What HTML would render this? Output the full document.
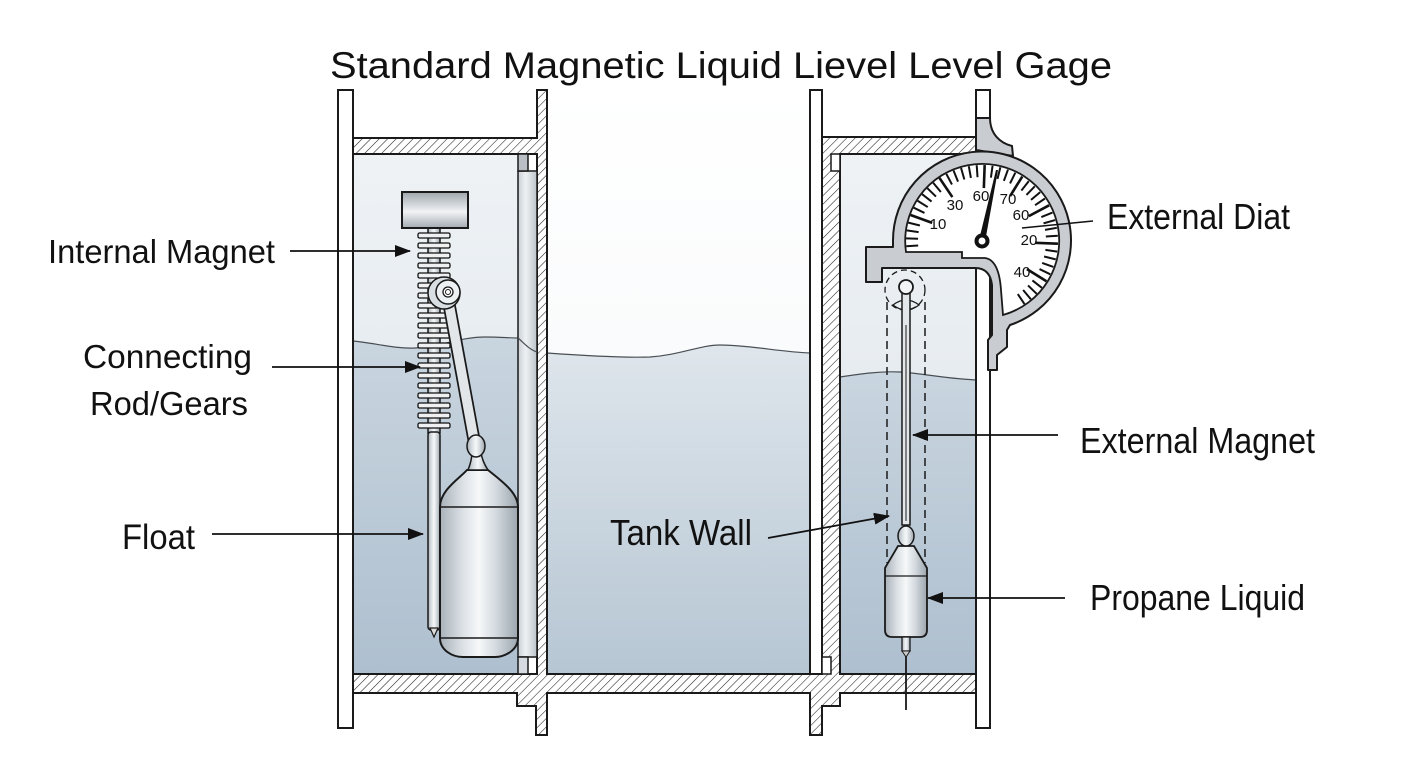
<!DOCTYPE html>
<html><head><meta charset="utf-8"><style>
html,body{margin:0;padding:0;background:#fff;}
body{width:1408px;height:768px;overflow:hidden;}
svg{display:block;}
</style></head><body>
<svg width="1408" height="768" viewBox="0 0 1408 768" xmlns="http://www.w3.org/2000/svg" font-family="'Liberation Sans', Arial, sans-serif">
<defs>
<pattern id="h" width="6" height="6" patternUnits="userSpaceOnUse" patternTransform="rotate(45)"><rect width="6" height="6" fill="#fff"/><line x1="0" y1="0" x2="0" y2="6" stroke="#222" stroke-width="1.1"/></pattern>
<linearGradient id="gl" x1="0" y1="0" x2="0" y2="1"><stop offset="0" stop-color="#eef2f5"/><stop offset="1" stop-color="#dde4ea"/></linearGradient>
<linearGradient id="gw" x1="0" y1="0" x2="0" y2="1"><stop offset="0" stop-color="#c9d5df"/><stop offset="1" stop-color="#aebfcf"/></linearGradient>
<linearGradient id="gm" x1="0" y1="0" x2="0" y2="1"><stop offset="0" stop-color="#dfe6ec"/><stop offset="1" stop-color="#b6c6d3"/></linearGradient>
<linearGradient id="gt" x1="0" y1="0" x2="0" y2="1"><stop offset="0" stop-color="#ffffff"/><stop offset="1" stop-color="#f3f6f8"/></linearGradient>
<linearGradient id="met" x1="0" y1="0" x2="1" y2="0"><stop offset="0" stop-color="#a9b2ba"/><stop offset="0.3" stop-color="#dde2e6"/><stop offset="0.5" stop-color="#f6f8f9"/><stop offset="0.72" stop-color="#d3d9de"/><stop offset="1" stop-color="#9ba5ae"/></linearGradient>
<linearGradient id="metv" x1="0" y1="0" x2="0" y2="1"><stop offset="0" stop-color="#9ea6ad"/><stop offset="0.55" stop-color="#f1f3f5"/><stop offset="1" stop-color="#a3abb2"/></linearGradient>
<linearGradient id="tube" x1="0" y1="0" x2="1" y2="0"><stop offset="0" stop-color="#c9cfd5"/><stop offset="0.4" stop-color="#eef1f3"/><stop offset="1" stop-color="#bcc4cb"/></linearGradient>
<marker id="ar" markerWidth="16" markerHeight="12" refX="15" refY="6" orient="auto" markerUnits="userSpaceOnUse"><path d="M0,0 L16,6 L0,12 Z" fill="#111"/></marker>
<clipPath id="face"><path d="M906,252 A77,77 0 1 1 1003,315 L1001,290 Q999,260 985,258 L962,258 L962,252 Z"/></clipPath>
</defs>

<!-- Title -->
<text x="330" y="78" font-size="37" textLength="782" lengthAdjust="spacingAndGlyphs" fill="#111">Standard Magnetic Liquid Lievel Level Gage</text>

<!-- Interiors -->
<rect x="353" y="154" width="165" height="520" fill="url(#gl)"/>
<path d="M353,341 C375,343 395,349 415,348 C440,347 460,337 485,337 C500,337 510,338 518,338 L518,674 L353,674 Z" fill="url(#gw)"/>
<rect x="547" y="90" width="263" height="584" fill="url(#gt)"/>
<path d="M547,353 C575,355 620,358 650,357 C680,355 700,345 720,345 C750,345 780,352 810,353 L810,674 L547,674 Z" fill="url(#gm)"/>
<rect x="840" y="154" width="136" height="520" fill="url(#gl)"/>
<path d="M840,377 C860,374 880,371 900,372 C920,373 940,378 976,380 L976,674 L840,674 Z" fill="url(#gw)"/>

<!-- water surface lines -->
<g fill="none" stroke="#4a4f55" stroke-width="1.2">
<path d="M353,341 C375,343 395,349 415,348 C440,347 460,337 485,337 C500,337 510,338 518,338"/>
<path d="M547,353 C575,355 620,358 650,357 C680,355 700,345 720,345 C750,345 780,352 810,353"/>
<path d="M840,377 C860,374 880,371 900,372 C920,373 940,378 976,380"/>
</g>

<!-- Hatched frame -->
<path d="M353,138 L537,138 L537,90 L547,90 L547,674 L822,674 L822,137 L976,137 L976,154 L840,154 L840,674 L976,674 L976,693 L840,693 L840,706 L822,706 L822,735 L810,735 L810,693 L547,693 L547,735 L536,735 L536,706 L517,706 L517,693 L353,693 L353,674 L537,674 L537,154 L353,154 Z" fill="url(#h)" stroke="#1a1a1a" stroke-width="2" stroke-linejoin="miter"/>
<rect x="810" y="90" width="12" height="584" fill="#fff" stroke="#1a1a1a" stroke-width="2"/>
<rect x="831" y="154" width="9" height="17" fill="#fff" stroke="#1a1a1a" stroke-width="1.5"/>
<rect x="822" y="657" width="9" height="17" fill="#fff" stroke="#1a1a1a" stroke-width="1.5"/>
<rect x="338" y="90" width="15" height="638" fill="#fff" stroke="#1a1a1a" stroke-width="2"/>
<rect x="976" y="90" width="14" height="638" fill="#fff" stroke="#1a1a1a" stroke-width="2"/>

<!-- left tube -->
<rect x="518" y="171" width="19" height="486" fill="url(#tube)" stroke="#1a1a1a" stroke-width="1.5"/>
<rect x="518" y="154" width="10" height="17" fill="#b9bfc4" stroke="#1a1a1a" stroke-width="1.5"/>
<rect x="518" y="657" width="10" height="17" fill="#d5dbe0" stroke="#1a1a1a" stroke-width="1.5"/>
<path d="M518,338 C525,344 530,350 537,352" fill="none" stroke="#4a4f55" stroke-width="1.2"/>
<line x1="353" y1="154" x2="353" y2="674" stroke="#1a1a1a" stroke-width="2"/>

<!-- Left mechanism -->
<rect x="428" y="228" width="12" height="205" fill="url(#met)" stroke="#1a1a1a" stroke-width="1.5"/>
<g fill="#eef0f2" stroke="#111" stroke-width="1.3">
<rect x="418" y="233" width="32" height="5" rx="1.5"/>
<rect x="418" y="243" width="32" height="5" rx="1.5"/>
<rect x="418" y="253" width="32" height="5" rx="1.5"/>
<rect x="418" y="263" width="32" height="5" rx="1.5"/>
<rect x="418" y="273" width="32" height="5" rx="1.5"/>
<rect x="418" y="283" width="32" height="5" rx="1.5"/>
<rect x="418" y="293" width="32" height="5" rx="1.5"/>
<rect x="418" y="303" width="32" height="5" rx="1.5"/>
<rect x="418" y="313" width="32" height="5" rx="1.5"/>
<rect x="418" y="323" width="32" height="5" rx="1.5"/>
<rect x="418" y="333" width="32" height="5" rx="1.5"/>
<rect x="418" y="343" width="32" height="5" rx="1.5"/>
<rect x="418" y="353" width="32" height="5" rx="1.5"/>
<rect x="418" y="363" width="32" height="5" rx="1.5"/>
<rect x="418" y="373" width="32" height="5" rx="1.5"/>
<rect x="418" y="383" width="32" height="5" rx="1.5"/>
<rect x="418" y="393" width="32" height="5" rx="1.5"/>
<rect x="418" y="403" width="32" height="5" rx="1.5"/>
<rect x="418" y="413" width="32" height="5" rx="1.5"/>
<rect x="418" y="423" width="32" height="5" rx="1.5"/>
</g>
<rect x="428" y="432" width="12" height="198" rx="3" fill="url(#met)" stroke="#1a1a1a" stroke-width="1.5"/>
<path d="M430,628 L434,637 L438,628 Z" fill="#ddd" stroke="#1a1a1a" stroke-width="1.2"/>
<rect x="402" y="192" width="66" height="36" fill="url(#metv)" stroke="#1a1a1a" stroke-width="2"/>
<!-- link arm -->
<line x1="447" y1="293" x2="474" y2="440" stroke="#1a1a1a" stroke-width="13" stroke-linecap="round"/>
<line x1="447" y1="293" x2="474" y2="440" stroke="#e2e6e9" stroke-width="9.5" stroke-linecap="round"/>
<!-- gear -->
<circle cx="444" cy="293" r="16" fill="#d9dee2" stroke="#1a1a1a" stroke-width="1.5"/>
<circle cx="448" cy="292" r="12" fill="#eef1f3" stroke="#1a1a1a" stroke-width="1.5"/>
<circle cx="448" cy="292" r="5" fill="#fff" stroke="#1a1a1a" stroke-width="1.3"/>
<circle cx="448" cy="292" r="2.5" fill="none" stroke="#1a1a1a" stroke-width="1"/>
<!-- float -->
<path d="M440,507 C440,490 460,478 467,470 L488,470 C500,480 518,492 518,507 L518,638 C518,650 505,657 495,657 L463,657 C452,657 440,650 440,638 Z" fill="url(#met)" stroke="#1a1a1a" stroke-width="2"/>
<line x1="440" y1="507" x2="518" y2="507" stroke="#1a1a1a" stroke-width="1.5"/>
<line x1="440" y1="638" x2="518" y2="638" stroke="#1a1a1a" stroke-width="1.5"/>
<path d="M468,470 Q472,460 472,452 L481,452 Q482,461 488,470 Z" fill="url(#met)" stroke="#1a1a1a" stroke-width="1.5"/>
<ellipse cx="476" cy="446" rx="9" ry="11" fill="url(#met)" stroke="#1a1a1a" stroke-width="1.5"/>

<!-- Gauge -->
<path d="M976,118 L976,150 L1013,156 L1012,146 C1000,143 990,134 990,118 Z" fill="#c9ccd0" stroke="#1a1a1a" stroke-width="2"/>
<path d="M893,247 L893,241 A89,89 0 1 1 1010,325 L1007,330 L1007,347 L997,355 L997,370 L988,370 L988,340 L992,335 L992,285 Q990,268 975,268 L882,268 L882,282 L866,282 L866,247 Z" fill="#c9ccd0" stroke="#1a1a1a" stroke-width="2" stroke-linejoin="round"/>
<path d="M906,252 A77,77 0 1 1 1003,315 L1001,290 Q999,260 985,258 L962,258 L962,252 Z" fill="#fff" stroke="#1a1a1a" stroke-width="1.8"/>
<g clip-path="url(#face)" stroke="#111" stroke-width="2">
<line x1="1046" y1="241" x2="1058" y2="241" transform="rotate(176 982 241)"/>
<line x1="1046" y1="241" x2="1058" y2="241" transform="rotate(182 982 241)"/>
<line x1="1046" y1="241" x2="1058" y2="241" transform="rotate(188 982 241)"/>
<line x1="1046" y1="241" x2="1058" y2="241" transform="rotate(194 982 241)"/>
<line x1="1035" y1="241" x2="1058" y2="241" stroke-width="2.6" transform="rotate(200 982 241)"/>
<line x1="1046" y1="241" x2="1058" y2="241" transform="rotate(206 982 241)"/>
<line x1="1046" y1="241" x2="1058" y2="241" transform="rotate(212 982 241)"/>
<line x1="1046" y1="241" x2="1058" y2="241" transform="rotate(218 982 241)"/>
<line x1="1046" y1="241" x2="1058" y2="241" transform="rotate(224 982 241)"/>
<line x1="1046" y1="241" x2="1058" y2="241" transform="rotate(230 982 241)"/>
<line x1="1035" y1="241" x2="1058" y2="241" stroke-width="2.6" transform="rotate(236 982 241)"/>
<line x1="1046" y1="241" x2="1058" y2="241" transform="rotate(242 982 241)"/>
<line x1="1046" y1="241" x2="1058" y2="241" transform="rotate(248 982 241)"/>
<line x1="1046" y1="241" x2="1058" y2="241" transform="rotate(254 982 241)"/>
<line x1="1046" y1="241" x2="1058" y2="241" transform="rotate(260 982 241)"/>
<line x1="1046" y1="241" x2="1058" y2="241" transform="rotate(266 982 241)"/>
<line x1="1035" y1="241" x2="1058" y2="241" stroke-width="2.6" transform="rotate(272 982 241)"/>
<line x1="1046" y1="241" x2="1058" y2="241" transform="rotate(278 982 241)"/>
<line x1="1046" y1="241" x2="1058" y2="241" transform="rotate(284 982 241)"/>
<line x1="1046" y1="241" x2="1058" y2="241" transform="rotate(290 982 241)"/>
<line x1="1046" y1="241" x2="1058" y2="241" transform="rotate(296 982 241)"/>
<line x1="1035" y1="241" x2="1058" y2="241" stroke-width="2.6" transform="rotate(302 982 241)"/>
<line x1="1046" y1="241" x2="1058" y2="241" transform="rotate(308 982 241)"/>
<line x1="1046" y1="241" x2="1058" y2="241" transform="rotate(314 982 241)"/>
<line x1="1046" y1="241" x2="1058" y2="241" transform="rotate(320 982 241)"/>
<line x1="1046" y1="241" x2="1058" y2="241" transform="rotate(326 982 241)"/>
<line x1="1035" y1="241" x2="1058" y2="241" stroke-width="2.6" transform="rotate(332 982 241)"/>
<line x1="1046" y1="241" x2="1058" y2="241" transform="rotate(338 982 241)"/>
<line x1="1046" y1="241" x2="1058" y2="241" transform="rotate(344 982 241)"/>
<line x1="1046" y1="241" x2="1058" y2="241" transform="rotate(350 982 241)"/>
<line x1="1046" y1="241" x2="1058" y2="241" transform="rotate(356 982 241)"/>
<line x1="1035" y1="241" x2="1058" y2="241" stroke-width="2.6" transform="rotate(362 982 241)"/>
<line x1="1046" y1="241" x2="1058" y2="241" transform="rotate(368 982 241)"/>
<line x1="1046" y1="241" x2="1058" y2="241" transform="rotate(374 982 241)"/>
<line x1="1046" y1="241" x2="1058" y2="241" transform="rotate(380 982 241)"/>
<line x1="1046" y1="241" x2="1058" y2="241" transform="rotate(386 982 241)"/>
<line x1="1035" y1="241" x2="1058" y2="241" stroke-width="2.6" transform="rotate(392 982 241)"/>
<line x1="1046" y1="241" x2="1058" y2="241" transform="rotate(398 982 241)"/>
<line x1="1046" y1="241" x2="1058" y2="241" transform="rotate(404 982 241)"/>
<line x1="1046" y1="241" x2="1058" y2="241" transform="rotate(410 982 241)"/>
<line x1="1046" y1="241" x2="1058" y2="241" transform="rotate(416 982 241)"/>
</g>
<g font-size="15" text-anchor="middle" fill="#111">
<text x="938" y="229">10</text>
<text x="955" y="210">30</text>
<text x="981" y="201">60</text>
<text x="1008" y="204">70</text>
<text x="1021" y="220">60</text>
<text x="1029" y="245">20</text>
<text x="1022" y="277">40</text>
</g>
<polygon points="979,240 985,242 998,170 996,170" fill="#111"/>
<circle cx="982" cy="241" r="7.5" fill="#111"/>
<circle cx="982" cy="241" r="3.5" fill="#fff"/>
<line x1="1022" y1="228" x2="1093" y2="221" stroke="#111" stroke-width="1.6"/>

<!-- Right mechanism -->
<line x1="887" y1="302" x2="887" y2="563" stroke="#1a1a1a" stroke-width="1.5" stroke-dasharray="8,5"/>
<line x1="925" y1="302" x2="925" y2="563" stroke="#1a1a1a" stroke-width="1.5" stroke-dasharray="8,5"/>
<circle cx="905" cy="290" r="20" fill="none" stroke="#1a1a1a" stroke-width="1.3" stroke-dasharray="6,4"/>
<path d="M893,305 Q906,295 919,305 Q906,315 893,305 Z" fill="none" stroke="#1a1a1a" stroke-width="1.2"/>
<rect x="902" y="290" width="8" height="235" fill="#e3e7ea" stroke="#1a1a1a" stroke-width="1.5"/>
<line x1="906" y1="325" x2="906" y2="521" stroke="#1a1a1a" stroke-width="1"/>
<circle cx="906" cy="287" r="7" fill="#f2f4f6" stroke="#1a1a1a" stroke-width="1.8"/>
<path d="M898,546 L885,568 L885,630 Q885,637 892,637 L920,637 Q927,637 927,630 L927,568 L914,546 Z" fill="url(#met)" stroke="#1a1a1a" stroke-width="1.8"/>
<line x1="885" y1="576" x2="927" y2="576" stroke="#1a1a1a" stroke-width="1.3"/>
<ellipse cx="906" cy="536" rx="8" ry="10" fill="url(#met)" stroke="#1a1a1a" stroke-width="1.5"/>
<rect x="902" y="637" width="8" height="14" fill="url(#met)" stroke="#1a1a1a" stroke-width="1.3"/>
<path d="M902,651 L906,657 L910,651 Z" fill="#ccc" stroke="#1a1a1a" stroke-width="1"/>
<line x1="906" y1="656" x2="906" y2="710" stroke="#1a1a1a" stroke-width="1.8"/>

<!-- Labels -->
<g fill="#111">
<text x="48" y="263" font-size="33" textLength="227" lengthAdjust="spacingAndGlyphs">Internal Magnet</text>
<text x="83" y="368" font-size="33" textLength="169" lengthAdjust="spacingAndGlyphs">Connecting</text>
<text x="90" y="415" font-size="33" textLength="158" lengthAdjust="spacingAndGlyphs">Rod/Gears</text>
<text x="122" y="549" font-size="35" textLength="73" lengthAdjust="spacingAndGlyphs">Float</text>
<text x="610" y="545" font-size="36" textLength="142" lengthAdjust="spacingAndGlyphs">Tank Wall</text>
<text x="1107" y="229" font-size="36" textLength="183" lengthAdjust="spacingAndGlyphs">External Diat</text>
<text x="1080" y="453" font-size="36" textLength="235" lengthAdjust="spacingAndGlyphs">External Magnet</text>
<text x="1090" y="610" font-size="36" textLength="215" lengthAdjust="spacingAndGlyphs">Propane Liquid</text>
</g>

<!-- Arrows -->
<g stroke="#111" stroke-width="1.7" fill="none">
<line x1="290" y1="251" x2="410" y2="251" marker-end="url(#ar)"/>
<line x1="272" y1="367" x2="420" y2="367" marker-end="url(#ar)"/>
<line x1="212" y1="534" x2="423" y2="534" marker-end="url(#ar)"/>
<line x1="768" y1="538" x2="889" y2="516" marker-end="url(#ar)"/>
<line x1="1058" y1="435" x2="913" y2="435" marker-end="url(#ar)"/>
<line x1="1065" y1="598" x2="928" y2="598" marker-end="url(#ar)"/>
</g>
</svg>
</body></html>
